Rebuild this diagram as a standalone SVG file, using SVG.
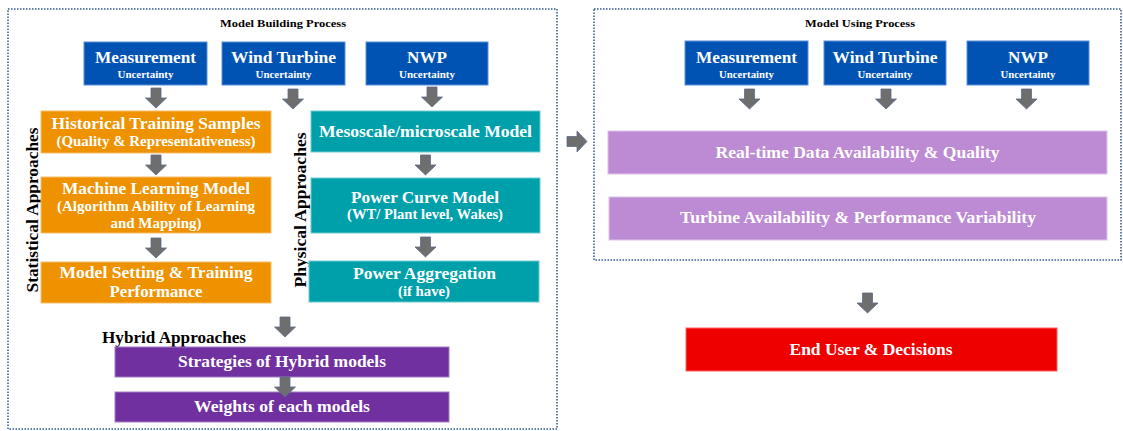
<svg xmlns="http://www.w3.org/2000/svg" xmlns:xlink="http://www.w3.org/1999/xlink" width="1123" height="431" viewBox="0 0 1123 431">
  <style>
    text { font-family: "Liberation Serif", "Times New Roman", serif; font-weight: bold; }
    .frame { fill: none; stroke: #2f5597; stroke-width: 1.5; stroke-dasharray: 1.5 1.5; }
    .ftitle { font-size: 11px; fill: #000; text-anchor: middle; }
    .lbl { font-size: 17px; fill: #000; text-anchor: middle; }
    .t { font-size: 17px; fill: #fff; text-anchor: middle; }
    .s { font-size: 15px; fill: #fff; text-anchor: middle; }
    .u { font-size: 11px; fill: #fff; text-anchor: middle; }
    .blue { fill: #0053b3; stroke: #5b8fd6; stroke-width: 1; }
    .orange { fill: #ee9200; stroke: #f6bd6a; stroke-width: 1; }
    .teal { fill: #00a0aa; stroke: #6ccbd0; stroke-width: 1; }
    .purple { fill: #7030a0; stroke: #a27cc4; stroke-width: 1; }
    .lilac { fill: #bd8bd3; stroke: #dcc2e8; stroke-width: 1; }
    .red { fill: #ee0000; stroke: #ff6060; stroke-width: 1; }
    .arrow { fill: #6e6e6e; stroke: #5d6b8a; stroke-width: 0.8; }
  </style>
  <defs>
    <!-- block arrow pointing down, 21 wide, 20 tall, origin at top centre -->
    <path id="down" class="arrow" d="M-5,0 H5 V10 H10.5 L0,20 L-10.5,10 H-5 Z"/>
    <!-- block arrow pointing right, origin at left middle -->
    <path id="right" class="arrow" d="M0,-5 H10 V-10.5 L20,0 L10,10.5 V5 H0 Z"/>
  </defs>

  <rect width="1123" height="431" fill="#fff"/>

  <!-- process frames -->
  <g id="frames">
    <rect class="frame" x="8" y="9" width="549" height="420"/>
    <text class="ftitle" x="283" y="27" textLength="126" lengthAdjust="spacingAndGlyphs">Model Building Process</text>
    <rect class="frame" x="594" y="9" width="527" height="251"/>
    <text class="ftitle" x="860" y="27" textLength="110" lengthAdjust="spacingAndGlyphs">Model Using Process</text>
  </g>

  <!-- approach labels -->
  <g id="labels">
    <text class="lbl" transform="translate(38,210) rotate(-90)" textLength="165" lengthAdjust="spacingAndGlyphs">Statistical Approaches</text>
    <text class="lbl" transform="translate(306,210) rotate(-90)" textLength="155" lengthAdjust="spacingAndGlyphs">Physical Approaches</text>
    <text class="lbl" x="174" y="343" textLength="144" lengthAdjust="spacingAndGlyphs">Hybrid Approaches</text>
  </g>

  <!-- building process: uncertainty sources -->
  <g id="build-measurement">
    <rect class="blue" x="84" y="42" width="123" height="43"/>
    <text class="t" x="145.5" y="63" textLength="101" lengthAdjust="spacingAndGlyphs">Measurement</text>
    <text class="u" x="145.5" y="78" textLength="56" lengthAdjust="spacingAndGlyphs">Uncertainty</text>
  </g>
  <g id="build-turbine">
    <rect class="blue" x="222" y="42" width="123" height="43"/>
    <text class="t" x="283.5" y="63" textLength="105" lengthAdjust="spacingAndGlyphs">Wind Turbine</text>
    <text class="u" x="283.5" y="78" textLength="56" lengthAdjust="spacingAndGlyphs">Uncertainty</text>
  </g>
  <g id="build-nwp">
    <rect class="blue" x="366" y="42" width="122" height="43"/>
    <text class="t" x="427" y="63" textLength="40" lengthAdjust="spacingAndGlyphs">NWP</text>
    <text class="u" x="427" y="78" textLength="56" lengthAdjust="spacingAndGlyphs">Uncertainty</text>
  </g>

  <!-- statistical branch -->
  <g id="historical-samples">
    <rect class="orange" x="41" y="111" width="230" height="42"/>
    <text class="t" x="156" y="129" textLength="209" lengthAdjust="spacingAndGlyphs">Historical Training Samples</text>
    <text class="s" x="156" y="146" textLength="199" lengthAdjust="spacingAndGlyphs">(Quality &amp; Representativeness)</text>
  </g>
  <g id="ml-model">
    <rect class="orange" x="41" y="177" width="230" height="56"/>
    <text class="t" x="156" y="194" textLength="188" lengthAdjust="spacingAndGlyphs">Machine Learning Model</text>
    <text class="s" x="156" y="211" textLength="198" lengthAdjust="spacingAndGlyphs">(Algorithm Ability of Learning</text>
    <text class="s" x="156" y="228" textLength="91" lengthAdjust="spacingAndGlyphs">and Mapping)</text>
  </g>
  <g id="model-setting">
    <rect class="orange" x="41" y="262" width="230" height="41"/>
    <text class="t" x="156" y="278" textLength="193" lengthAdjust="spacingAndGlyphs">Model Setting &amp; Training</text>
    <text class="t" x="156" y="297" textLength="93" lengthAdjust="spacingAndGlyphs">Performance</text>
  </g>

  <!-- physical branch -->
  <g id="mesoscale-model">
    <rect class="teal" x="311" y="111" width="229" height="41"/>
    <text class="t" x="425.5" y="137" textLength="213" lengthAdjust="spacingAndGlyphs">Mesoscale/microscale Model</text>
  </g>
  <g id="power-curve">
    <rect class="teal" x="311" y="178" width="229" height="55"/>
    <text class="t" x="425" y="203" textLength="148" lengthAdjust="spacingAndGlyphs">Power Curve Model</text>
    <text class="s" x="425" y="219" textLength="156" lengthAdjust="spacingAndGlyphs">(WT/ Plant level, Wakes)</text>
  </g>
  <g id="power-aggregation">
    <rect class="teal" x="309" y="261" width="230" height="41"/>
    <text class="t" x="424.5" y="279" textLength="143" lengthAdjust="spacingAndGlyphs">Power Aggregation</text>
    <text class="s" x="424" y="296" textLength="52" lengthAdjust="spacingAndGlyphs">(if have)</text>
  </g>

  <!-- hybrid branch -->
  <g id="hybrid-strategies">
    <rect class="purple" x="115" y="347" width="334" height="30"/>
    <text class="t" x="282" y="367" textLength="208" lengthAdjust="spacingAndGlyphs">Strategies of Hybrid models</text>
  </g>
  <g id="hybrid-weights">
    <rect class="purple" x="115" y="392" width="334" height="30"/>
    <text class="t" x="282" y="412" textLength="176" lengthAdjust="spacingAndGlyphs">Weights of each models</text>
  </g>

  <!-- using process: uncertainty sources -->
  <g id="use-measurement">
    <rect class="blue" x="685" y="41" width="123" height="44"/>
    <text class="t" x="746.5" y="63" textLength="101" lengthAdjust="spacingAndGlyphs">Measurement</text>
    <text class="u" x="746.5" y="78" textLength="55" lengthAdjust="spacingAndGlyphs">Uncertainty</text>
  </g>
  <g id="use-turbine">
    <rect class="blue" x="824" y="41" width="122" height="44"/>
    <text class="t" x="885" y="63" textLength="105" lengthAdjust="spacingAndGlyphs">Wind Turbine</text>
    <text class="u" x="885" y="78" textLength="55" lengthAdjust="spacingAndGlyphs">Uncertainty</text>
  </g>
  <g id="use-nwp">
    <rect class="blue" x="967" y="41" width="122" height="44"/>
    <text class="t" x="1028" y="63" textLength="40" lengthAdjust="spacingAndGlyphs">NWP</text>
    <text class="u" x="1028" y="78" textLength="55" lengthAdjust="spacingAndGlyphs">Uncertainty</text>
  </g>
  <g id="realtime-data">
    <rect class="lilac" x="608" y="131" width="499" height="43"/>
    <text class="t" x="857.5" y="158" textLength="284" lengthAdjust="spacingAndGlyphs">Real-time Data Availability &amp; Quality</text>
  </g>
  <g id="turbine-availability">
    <rect class="lilac" x="609" y="197" width="498" height="43"/>
    <text class="t" x="858" y="223" textLength="356" lengthAdjust="spacingAndGlyphs">Turbine Availability &amp; Performance Variability</text>
  </g>
  <g id="end-user">
    <rect class="red" x="686" y="328" width="371" height="43"/>
    <text class="t" x="871" y="355" textLength="163" lengthAdjust="spacingAndGlyphs">End User &amp; Decisions</text>
  </g>

  <!-- connectors -->
  <g id="connectors">
    <use xlink:href="#down" x="156" y="88"/>
    <use xlink:href="#down" x="293" y="89"/>
    <use xlink:href="#down" x="432" y="87"/>
    <use xlink:href="#down" x="156" y="155"/>
    <use xlink:href="#down" x="156" y="238"/>
    <use xlink:href="#down" x="425.5" y="155"/>
    <use xlink:href="#down" x="425.5" y="237"/>
    <use xlink:href="#down" x="285" y="317"/>
    <use xlink:href="#down" x="285" y="377"/>
    <use xlink:href="#right" x="567" y="141.5"/>
    <use xlink:href="#down" x="749.5" y="89"/>
    <use xlink:href="#down" x="886" y="89"/>
    <use xlink:href="#down" x="1026.5" y="89"/>
    <use xlink:href="#down" x="867.5" y="293"/>
  </g>
</svg>
